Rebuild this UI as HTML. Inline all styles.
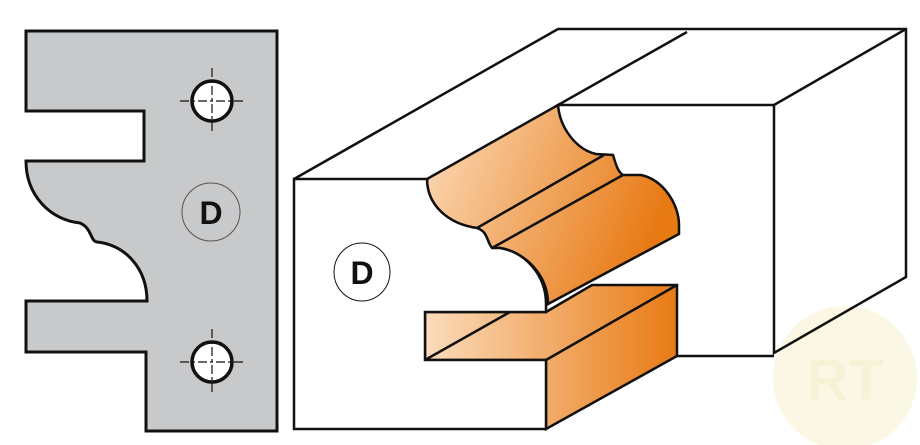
<!DOCTYPE html>
<html><head><meta charset="utf-8"><style>html,body{margin:0;padding:0;background:#fff}svg{display:block}</style></head>
<body>
<svg width="920" height="445" viewBox="0 0 920 445" xmlns="http://www.w3.org/2000/svg">
<defs>
<linearGradient id="og" x1="0" y1="0" x2="1" y2="0.3">
<stop offset="0" stop-color="#fbdcbc"/><stop offset="1" stop-color="#e87a14"/>
</linearGradient>
<linearGradient id="og2" x1="0" y1="0" x2="1" y2="0">
<stop offset="0" stop-color="#fbdcbc"/><stop offset="1" stop-color="#e87a14"/>
</linearGradient>
</defs>
<path d="M26,31 H277 V431 H146 V352 H26 V301 H147 C147,268 125,245 97,242 C90,241 92,228 80,223 C50,220 26,195 26,161 H144 V111 H26 Z" fill="#c8c9cb" stroke="#111" stroke-width="3" stroke-linejoin="miter"/>
<g stroke="#111">
<circle cx="212" cy="101" r="20" fill="#fff" stroke-width="3.5"/>
<circle cx="212" cy="362" r="20" fill="#fff" stroke-width="3.5"/>
<g stroke-width="1.2" stroke-dasharray="9,3,3,3">
<line x1="180" y1="101" x2="245" y2="101"/><line x1="212" y1="68" x2="212" y2="134"/>
<line x1="180" y1="362" x2="245" y2="362"/><line x1="212" y1="329" x2="212" y2="395"/>
</g>
<circle cx="211" cy="212" r="29" fill="none" stroke="#555" stroke-width="1"/>
</g>
<text x="211" y="224" text-anchor="middle" font-family="Liberation Sans, sans-serif" font-weight="bold" font-size="32" fill="#111">D</text>

<g opacity="0.3">
<circle cx="845" cy="378" r="72" fill="#f2e6a8"/>
<text x="845" y="400" text-anchor="middle" font-family="Liberation Sans, sans-serif" font-weight="bold" font-size="58" fill="#e8d27a">RT</text>
</g>

<g stroke="#111" stroke-width="2.5" stroke-linejoin="miter" fill="none">
<path d="M294,179 L558,29 H906 V277 L774,353 V105 L906,29" />
<path d="M774,105 H558 L687,32"/>
<path d="M677,356 H774"/>
<path d="M427,179 L558,105 C560,130 578,150 596,154 L613,155 C616,165 618,172 623,175 L641,175 C664,180 679,205 679,225 V234 L548,304 C548,275 525,252 500,248 L492,248 C486,240 488,232 477,228 C448,224 427,205 427,179 Z" fill="url(#og)"/>
<path d="M477,228 L604,155 M492,248 L623,175"/>
<path d="M546,312 L592,285 H677 V356 L546,429 V360 H425 V312 Z" fill="url(#og2)"/>
<path d="M425,360 L510,312 M546,360 L677,285"/>
<path d="M294,179 H427 C427,205 448,224 477,228 C488,232 486,240 492,248 L500,248 C525,252 546,275 546,304 V312 H425 V360 H546 V429 H294 Z" fill="#fff"/>
</g>
<ellipse cx="362" cy="272" rx="28" ry="29" fill="none" stroke="#111" stroke-width="1"/>
<text x="362" y="284" text-anchor="middle" font-family="Liberation Sans, sans-serif" font-weight="bold" font-size="32" fill="#111">D</text>
</svg>
</body></html>
